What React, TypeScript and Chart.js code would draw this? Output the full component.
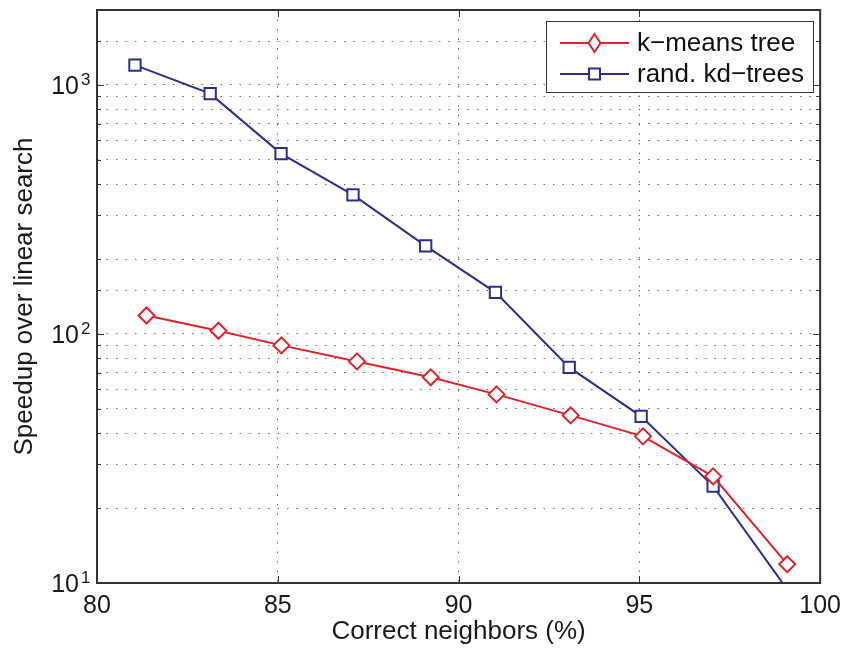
import React, { useEffect, useRef } from "react";
import { Chart, registerables } from "chart.js";

Chart.register(...registerables);

const kmeansX = [81.37, 83.36, 85.1, 87.19, 89.23, 91.05, 93.1, 95.1, 97.04, 99.09];
const kmeansY = [118.6, 103, 90, 77.6, 67, 57.2, 47.1, 38.8, 26.8, 11.9];
const kdX = [81.05, 83.13, 85.09, 87.08, 89.09, 91.02, 93.06, 95.05, 97.04, 99.05];
const kdY = [1202, 923, 530, 362, 226, 147, 73.4, 46.7, 24.5, 9.6];
const seriesLabels = ["k\u2212means tree", "rand. kd\u2212trees"];
const xTickValues = [80, 85, 90, 95, 100];
const yMajorValues = [10, 100, 1000];
const yMajorExponents = ["1", "2", "3"];
const X_MIN = 80;
const X_MAX = 100;
const Y_MIN = 10;
const Y_MAX = 2000;

const FONT = "'Liberation Sans', Arial, Helvetica, sans-serif";
const RED = "#e3232b";
const BLUE = "#2c2f8e";
const FRAME = "#333333";

const framePlugin = {
  id: "matlabFrame",
  afterDatasetsDraw(chart: any) {
    const { ctx, chartArea } = chart;
    const { left, right, top, bottom } = chartArea;
    const xs = chart.scales.x;
    const ys = chart.scales.y;
    ctx.save();
    ctx.strokeStyle = FRAME;
    ctx.lineWidth = 1;
    xTickValues.forEach((v) => {
      const px = Math.round(xs.getPixelForValue(v)) + 0.5;
      ctx.beginPath();
      ctx.moveTo(px, bottom);
      ctx.lineTo(px, bottom - 7);
      ctx.moveTo(px, top);
      ctx.lineTo(px, top + 7);
      ctx.stroke();
    });
    ys.ticks.forEach((t: any) => {
      const v = t.value;
      const py = Math.round(ys.getPixelForValue(v)) + 0.5;
      const major = yMajorValues.includes(v);
      const len = major ? 7 : 4;
      ctx.beginPath();
      ctx.moveTo(left, py);
      ctx.lineTo(left + len, py);
      ctx.moveTo(right, py);
      ctx.lineTo(right - len, py);
      ctx.stroke();
    });
    ctx.lineWidth = 2;
    ctx.strokeRect(left, top, right - left, bottom - top);
    ctx.restore();
  },
  afterDraw(chart: any) {
    const { ctx } = chart;
    const ys = chart.scales.y;
    const left = chart.chartArea.left;
    ctx.save();
    ctx.fillStyle = "#1a1a1a";
    yMajorValues.forEach((v, i) => {
      const py = ys.getPixelForValue(v);
      ctx.font = `25px ${FONT}`;
      ctx.textAlign = "right";
      ctx.textBaseline = "middle";
      ctx.fillText("10", left - 18, py + 2);
      ctx.font = `17px ${FONT}`;
      ctx.textAlign = "left";
      ctx.fillText(yMajorExponents[i], left - 16, py - 5);
    });

    const bx = 546, by = 21, bw = 267, bh = 71;
    ctx.fillStyle = "#ffffff";
    ctx.fillRect(bx, by, bw, bh);
    ctx.strokeStyle = FRAME;
    ctx.lineWidth = 1;
    ctx.strokeRect(bx + 0.5, by + 0.5, bw, bh);
    const rows = [by + 22, by + 53];
    chart.data.datasets.forEach((ds: any, i: number) => {
      const y = rows[i];
      ctx.strokeStyle = ds.borderColor;
      ctx.lineWidth = 2;
      ctx.beginPath();
      ctx.moveTo(bx + 14, y);
      ctx.lineTo(bx + 83, y);
      ctx.stroke();
      const cx = bx + 48.5;
      ctx.fillStyle = "#ffffff";
      ctx.beginPath();
      if (ds.pointStyle === "rectRot") {
        ctx.moveTo(cx, y - 9);
        ctx.lineTo(cx + 6, y);
        ctx.lineTo(cx, y + 9);
        ctx.lineTo(cx - 6, y);
        ctx.closePath();
      } else {
        ctx.rect(cx - 5.5, y - 5.5, 11, 11);
      }
      ctx.fill();
      ctx.stroke();
      ctx.fillStyle = "#111111";
      ctx.font = `26px ${FONT}`;
      ctx.textAlign = "left";
      ctx.textBaseline = "middle";
      ctx.fillText(ds.label, bx + 91, y + 1);
    });
    ctx.restore();
  },
};

export default function App() {
  const canvasRef = useRef<HTMLCanvasElement | null>(null);

  useEffect(() => {
    document.body.style.margin = "0";
    const canvas = canvasRef.current;
    if (!canvas) return;
    Chart.defaults.font.family = FONT;

    const radiusFn = (c: any) => {
      const r = c.raw;
      if (!r) return 8;
      return r.y < Y_MIN || r.y > Y_MAX ? 0 : 8;
    };

    const chart = new Chart(canvas, {
      type: "line",
      data: {
        datasets: [
          {
            label: seriesLabels[0],
            data: kmeansX.map((x, i) => ({ x, y: kmeansY[i] })),
            borderColor: RED,
            borderWidth: 2,
            pointStyle: "rectRot",
            pointRadius: radiusFn,
            pointHoverRadius: radiusFn,
            pointBackgroundColor: "#ffffff",
            pointBorderColor: RED,
            pointBorderWidth: 2,
            tension: 0,
            fill: false,
          },
          {
            label: seriesLabels[1],
            data: kdX.map((x, i) => ({ x, y: kdY[i] })),
            borderColor: BLUE,
            borderWidth: 2,
            pointStyle: "rect",
            pointRadius: radiusFn,
            pointHoverRadius: radiusFn,
            pointBackgroundColor: "#ffffff",
            pointBorderColor: BLUE,
            pointBorderWidth: 2,
            tension: 0,
            fill: false,
          },
        ],
      },
      options: {
        responsive: false,
        animation: false,
        events: [],
        layout: { padding: { left: 0, right: 26, top: 10, bottom: 0 } },
        plugins: {
          legend: { display: false },
          tooltip: { enabled: false },
          title: { display: false },
        },
        scales: {
          x: {
            type: "linear",
            min: X_MIN,
            max: X_MAX,
            afterBuildTicks: (scale: any) => {
              scale.ticks = xTickValues.map((v) => ({ value: v }));
            },
            afterFit: (scale: any) => {
              scale.height = 68;
            },
            ticks: {
              color: "#1a1a1a",
              font: { size: 25, family: FONT },
              padding: 8,
              maxRotation: 0,
              callback: (v: any) => String(v),
            },
            grid: {
              color: "#6a6a6a",
              lineWidth: 1,
              drawTicks: false,
            },
            border: { display: false, dash: [1.5, 8] },
            title: {
              display: true,
              text: "Correct neighbors (%)",
              color: "#1a1a1a",
              font: { size: 26, family: FONT },
              padding: 4,
            },
          },
          y: {
            type: "logarithmic",
            min: Y_MIN,
            max: Y_MAX,
            afterFit: (scale: any) => {
              scale.width = 97;
            },
            ticks: {
              display: false,
            },
            grid: {
              color: "#6a6a6a",
              lineWidth: 1,
              drawTicks: false,
            },
            border: { display: false, dash: [1.5, 8] },
            title: {
              display: true,
              text: "Speedup over linear search",
              color: "#1a1a1a",
              font: { size: 26, family: FONT },
              padding: 9,
            },
          },
        },
      },
      plugins: [framePlugin],
    } as any);

    return () => chart.destroy();
  }, []);

  return (
    <div style={{ width: 849, height: 651, background: "#fff" }}>
      <canvas ref={canvasRef} width={849} height={651} style={{ display: "block" }} />
    </div>
  );
}
